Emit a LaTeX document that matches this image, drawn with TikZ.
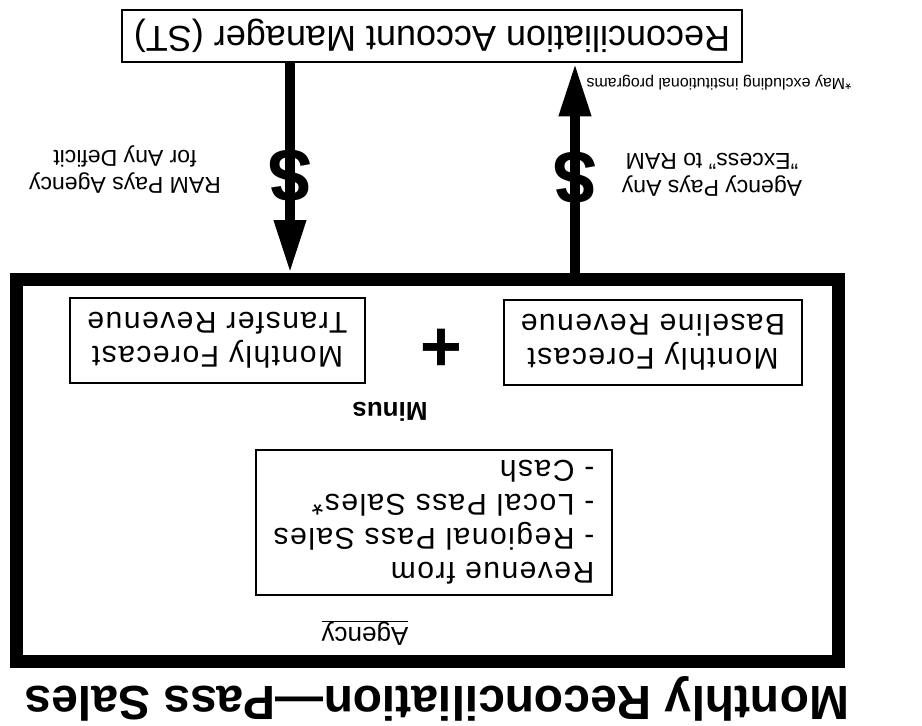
\documentclass[tikz,border=0pt]{standalone}
\usepackage{fontspec}
\setmainfont{Liberation Sans}
\newfontfamily\widesans[LetterSpace=5]{Liberation Sans}
\usetikzlibrary{arrows.meta}

\begin{document}
\begin{tikzpicture}[x=-1pt, y=-1pt,
    every node/.style={rotate=180},
    box/.style={draw, line width=2.5pt, inner sep=0pt, align=center,
                font=\widesans\fontsize{30}{34}\selectfont},
    flow/.style={line width=10pt, -{Triangle[width=30pt,length=53pt]}},
    dollar/.style={font=\bfseries\fontsize{76}{76}\selectfont, inner sep=0pt},
    side/.style={align=center, font=\fontsize{23}{27}\selectfont},
  ]
    \useasboundingbox (0,0) rectangle (922,726);
    \node[box, minimum width=620pt, minimum height=52pt,
          font=\fontsize{36}{40}\selectfont] (ram) at (490,36)
      {Reconciliation Account Manager (ST)};
    \node[draw, line width=13pt, minimum width=822pt, minimum height=382pt] (agency) at (494.5,470.5) {};
    \node[font=\bfseries\fontsize{48}{48}\selectfont] (title) at (485,699)
      {Monthly Reconciliation---Pass Sales};
    \node[font=\fontsize{26}{30}\selectfont] (agname) at (557,633) {\underline{Agency}};
    \node[box, minimum width=356pt, minimum height=145pt, align=left] (rev) at (488,522.5)
      {Revenue from\\- Regional Pass Sales\\- Local Pass Sales*\\- Cash};
    \node[font=\bfseries\fontsize{26}{30}\selectfont] (minus) at (532,412) {Minus};
    \node[box, minimum width=298pt, minimum height=85pt] (base) at (269,342.5)
      {Monthly Forecast\\Baseline Revenue};
    \node[box, minimum width=295pt, minimum height=85pt] (trans) at (704.5,340.5)
      {Monthly Forecast\\Transfer Revenue};
    \node[font=\bfseries\fontsize{72}{72}\selectfont] (plus) at (481,345) {+};

    \coordinate (xl) at (632,0);
    \coordinate (xr) at (347,0);
    \draw[flow] (ram.north -| xl) -- node[dollar, pos=0.53] (d1) {\$} (agency.south -| xl);
    \draw[flow] (agency.south -| xr) -- node[dollar, pos=0.46] (d2) {\$} (ram.north -| xr);

    \node[side] (deficit) at (797,170) {RAM Pays Agency\\for Any Deficit};
    \node[side] (excess) at (210,175) {Agency Pays Any\\"Excess" to RAM};
    \node[anchor=west, font=\fontsize{16}{18}\selectfont] (note) at (67,83)
      {*May excluding institutional programs};
\end{tikzpicture}
\end{document}
